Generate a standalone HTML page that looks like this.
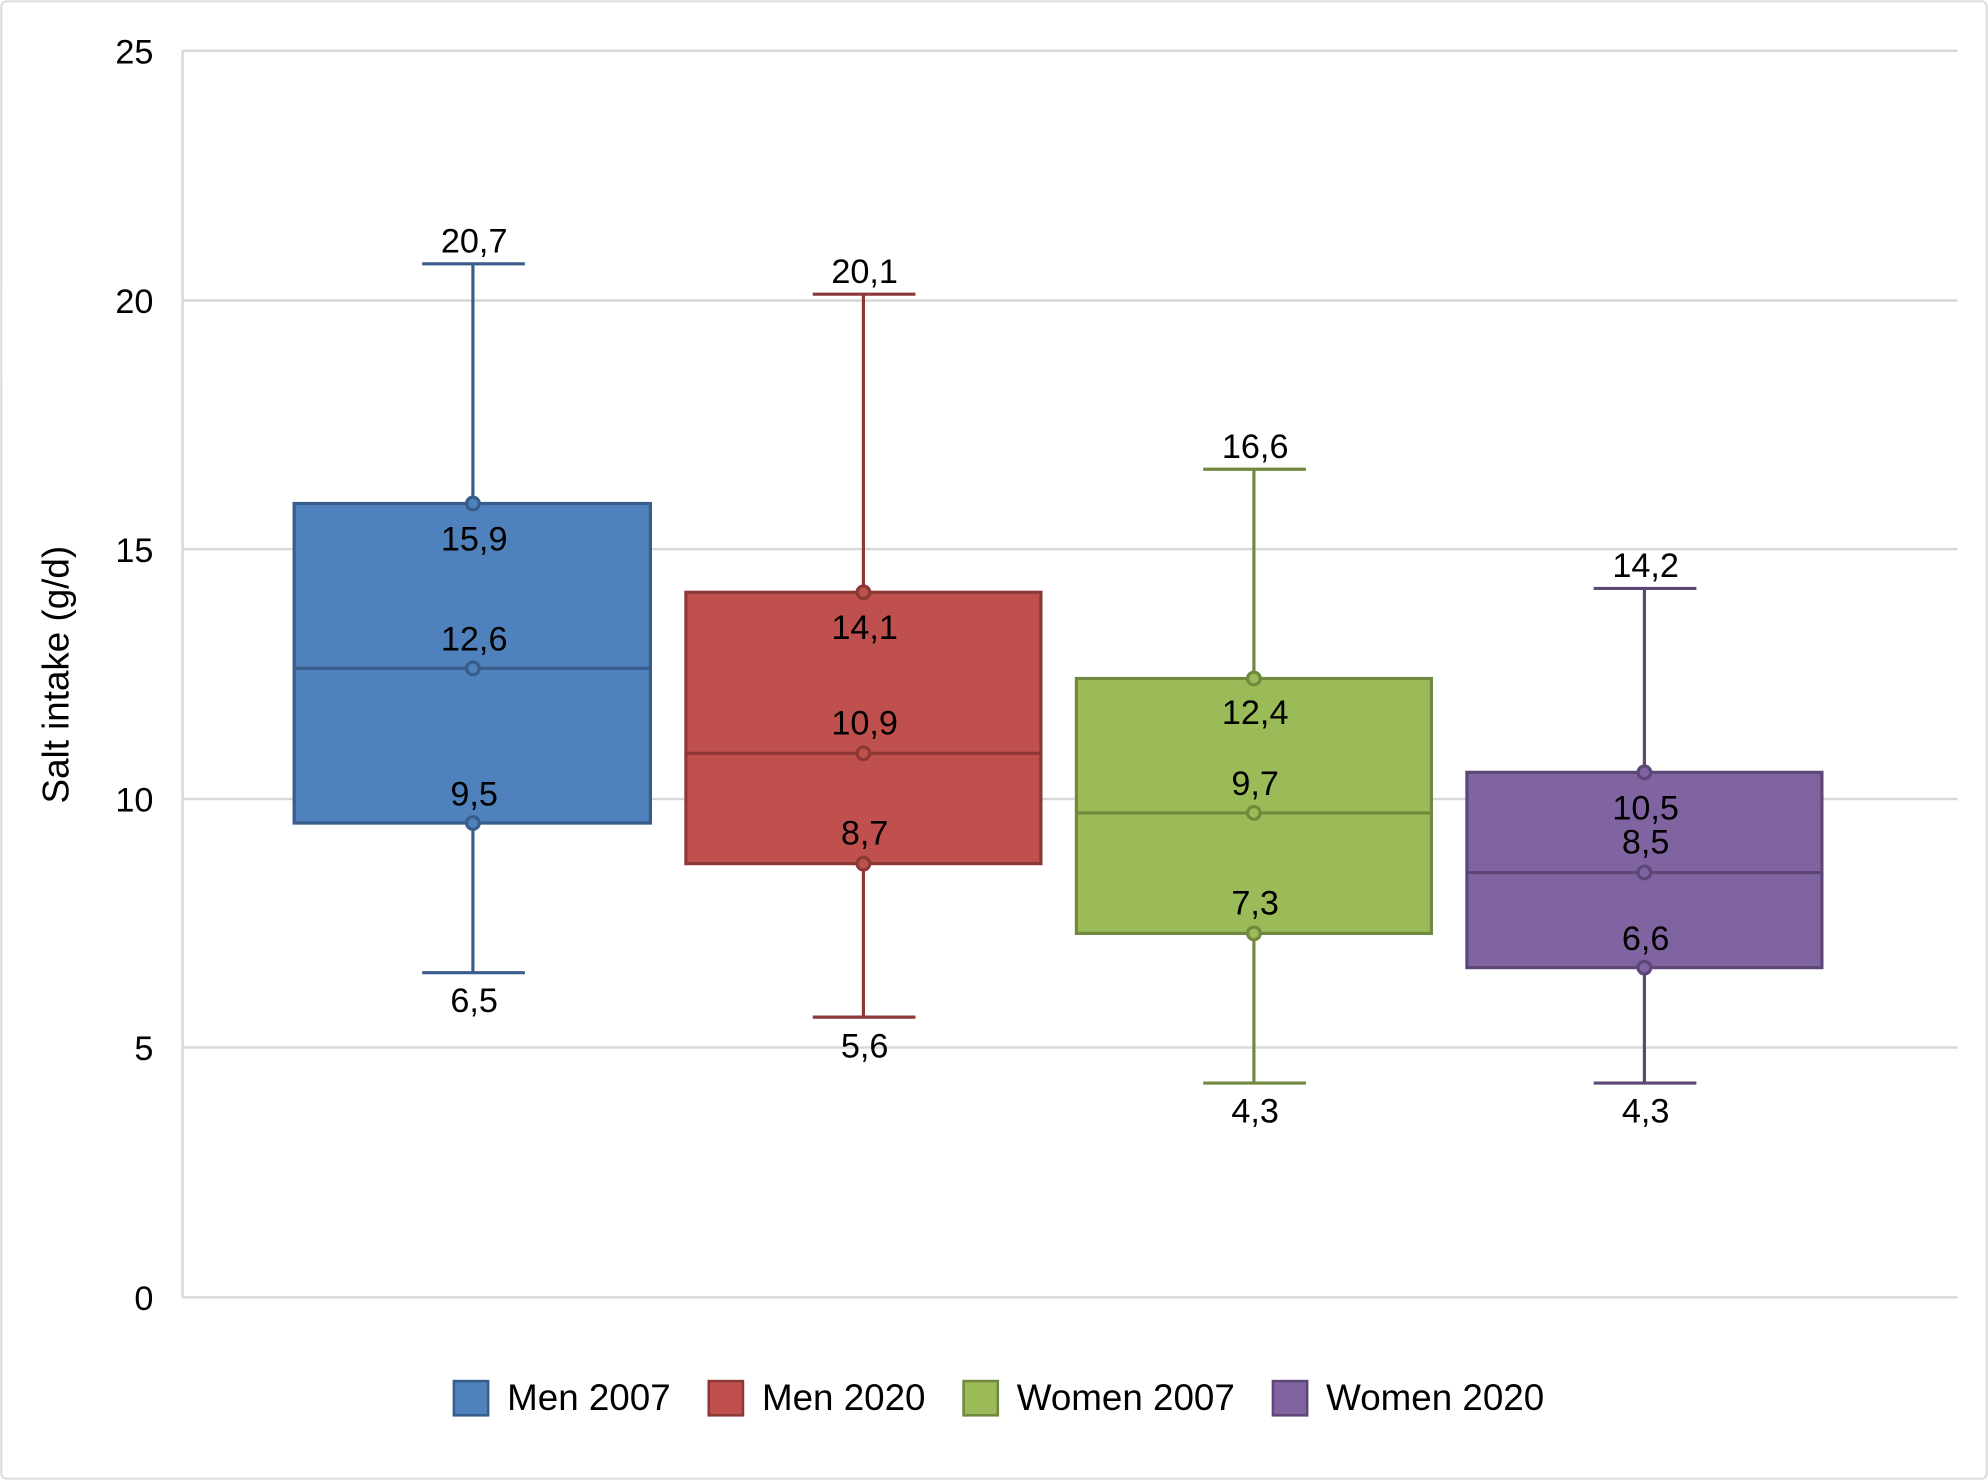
<!DOCTYPE html>
<html><head><meta charset="utf-8"><style>
html,body{margin:0;padding:0;background:#fff;}
svg{display:block;}
text{font-family:"Liberation Sans",sans-serif;fill:#000;}
</style></head><body>
<svg width="1988" height="1480" viewBox="0 0 1568 1167" preserveAspectRatio="none" xmlns="http://www.w3.org/2000/svg">
<rect x="1" y="1" width="1566" height="1165" rx="4" fill="#fff" stroke="#d9d9d9" stroke-width="1.5"/>
<g stroke="#d9d9d9" stroke-width="2">
<line x1="144" y1="40" x2="1544" y2="40"/>
<line x1="144" y1="237" x2="1544" y2="237"/>
<line x1="144" y1="433" x2="1544" y2="433"/>
<line x1="144" y1="630" x2="1544" y2="630"/>
<line x1="144" y1="826" x2="1544" y2="826"/>
<line x1="144" y1="1023" x2="1544" y2="1023"/>
<line x1="144" y1="40" x2="144" y2="1023"/>
</g>
<g font-size="27" text-anchor="end">
<text x="121" y="50">25</text>
<text x="121" y="247">20</text>
<text x="121" y="443">15</text>
<text x="121" y="640">10</text>
<text x="121" y="836">5</text>
<text x="121" y="1033">0</text>
</g>
<text font-size="29" transform="translate(54,532) rotate(-90)" text-anchor="middle">Salt intake (g/d)</text>

<g stroke="#385D8A" stroke-width="2.5">
<line x1="373" y1="208" x2="373" y2="767"/>
<line x1="333" y1="208" x2="414" y2="208"/>
<line x1="333" y1="767" x2="414" y2="767"/>
<rect x="232" y="397" width="281" height="252" fill="#4F81BD"/>
<line x1="232" y1="527" x2="513" y2="527"/>
<circle cx="373" cy="397" r="5" fill="#4F81BD"/><circle cx="373" cy="527" r="5" fill="#4F81BD"/><circle cx="373" cy="649" r="5" fill="#4F81BD"/>
</g>
<g stroke="#8C3836" stroke-width="2.5">
<line x1="681" y1="232" x2="681" y2="802"/>
<line x1="641" y1="232" x2="722" y2="232"/>
<line x1="641" y1="802" x2="722" y2="802"/>
<rect x="541" y="467" width="280" height="214" fill="#C0504D"/>
<line x1="541" y1="594" x2="821" y2="594"/>
<circle cx="681" cy="467" r="5" fill="#C0504D"/><circle cx="681" cy="594" r="5" fill="#C0504D"/><circle cx="681" cy="681" r="5" fill="#C0504D"/>
</g>
<g stroke="#71893F" stroke-width="2.5">
<line x1="989" y1="370" x2="989" y2="854"/>
<line x1="949" y1="370" x2="1030" y2="370"/>
<line x1="949" y1="854" x2="1030" y2="854"/>
<rect x="849" y="535" width="280" height="201" fill="#9BBB59"/>
<line x1="849" y1="641" x2="1129" y2="641"/>
<circle cx="989" cy="535" r="5" fill="#9BBB59"/><circle cx="989" cy="641" r="5" fill="#9BBB59"/><circle cx="989" cy="736" r="5" fill="#9BBB59"/>
</g>
<g stroke="#5C4776" stroke-width="2.5">
<line x1="1297" y1="464" x2="1297" y2="854"/>
<line x1="1257" y1="464" x2="1338" y2="464"/>
<line x1="1257" y1="854" x2="1338" y2="854"/>
<rect x="1157" y="609" width="280" height="154" fill="#8064A2"/>
<line x1="1157" y1="688" x2="1437" y2="688"/>
<circle cx="1297" cy="609" r="5" fill="#8064A2"/><circle cx="1297" cy="688" r="5" fill="#8064A2"/><circle cx="1297" cy="763" r="5" fill="#8064A2"/>
</g>

<g font-size="27" text-anchor="middle">
<text x="374" y="199">20,7</text><text x="374" y="434">15,9</text><text x="374" y="513">12,6</text><text x="374" y="635">9,5</text><text x="374" y="798">6,5</text>
<text x="682" y="223">20,1</text><text x="682" y="504">14,1</text><text x="682" y="579">10,9</text><text x="682" y="666">8,7</text><text x="682" y="834">5,6</text>
<text x="990" y="361">16,6</text><text x="990" y="571">12,4</text><text x="990" y="627">9,7</text><text x="990" y="721">7,3</text><text x="990" y="885">4,3</text>
<text x="1298" y="455">14,2</text><text x="1298" y="646">10,5</text><text x="1298" y="673">8,5</text><text x="1298" y="749">6,6</text><text x="1298" y="885">4,3</text>
</g>

<g font-size="29">
<rect x="358" y="1089" width="27" height="27" fill="#4F81BD" stroke="#385D8A" stroke-width="2"/><text x="400" y="1112">Men 2007</text>
<rect x="559" y="1089" width="27" height="27" fill="#C0504D" stroke="#8C3836" stroke-width="2"/><text x="601" y="1112">Men 2020</text>
<rect x="760" y="1089" width="27" height="27" fill="#9BBB59" stroke="#71893F" stroke-width="2"/><text x="802" y="1112">Women 2007</text>
<rect x="1004" y="1089" width="27" height="27" fill="#8064A2" stroke="#5C4776" stroke-width="2"/><text x="1046" y="1112">Women 2020</text>
</g>
</svg>
</body></html>
